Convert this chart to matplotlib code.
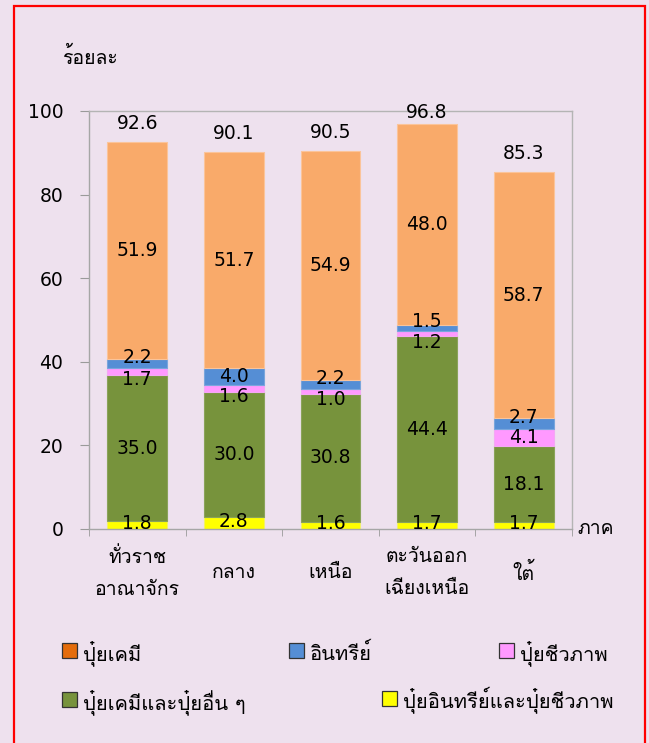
import matplotlib
matplotlib.use("Agg")
import matplotlib.pyplot as plt
from matplotlib import font_manager
from matplotlib.patches import Rectangle
import numpy as np

# ---------------- data ----------------
categories = ["ทั่วราช\nอาณาจักร", "กลาง", "เหนือ", "ตะวันออก\nเฉียงเหนือ", "ใต้"]
series_names = ["ปุ๋ยอินทรีย์และปุ๋ยชีวภาพ", "ปุ๋ยเคมีและปุ๋ยอื่น ๆ", "ปุ๋ยชีวภาพ", "อินทรีย์", "ปุ๋ยเคมี"]
organic_bio = [1.8, 2.8, 1.6, 1.7, 1.7]
chem_other = [35.0, 30.0, 30.8, 44.4, 18.1]
bio = [1.7, 1.6, 1.0, 1.2, 4.1]
organic = [2.2, 4.0, 2.2, 1.5, 2.7]
chem = [51.9, 51.7, 54.9, 48.0, 58.7]
totals = [92.6, 90.1, 90.5, 96.8, 85.3]
yticks = [0, 20, 40, 60, 80, 100]

# ---------------- font with Thai ----------------
def find_thai_fonts():
    found = []
    try:
        from fontTools.ttLib import TTFont
    except Exception:
        return found
    prefer = ["Tahoma", "Leelawadee", "Noto Sans Thai", "Loma", "Garuda", "Sarabun", "Waree", "Umpush"]
    seen = set()
    for f in font_manager.fontManager.ttflist:
        name, path = f.name, f.fname
        if name in seen:
            continue
        try:
            tt = TTFont(path, fontNumber=0, lazy=True)
            cmap = tt.getBestCmap()
            if cmap and 0x0E01 in cmap and 0x0E49 in cmap:
                found.append(name)
                seen.add(name)
            tt.close()
        except Exception:
            pass
    found.sort(key=lambda n: (0 if any(p.lower() in n.lower() for p in prefer) else 1, n))
    return found

thai = find_thai_fonts()
NUM_FONT = ["DejaVu Sans"] + thai[:1]
THAI_FONT = thai[:1] + ["DejaVu Sans"]
plt.rcParams['font.family'] = NUM_FONT

BG = "#EEE1EE"
colors = ["#FFFF00", "#77933C", "#FF99FF", "#558ED5", "#F9AA6A"]
edge_colors = ["#F2F26A", "#8AA35A", "#F4A8F4", "#7AA6DC", "#FBC49A"]
legend_colors = {"ปุ๋ยเคมี": "#E46C0A", "อินทรีย์": "#558ED5", "ปุ๋ยชีวภาพ": "#FF99FF",
                 "ปุ๋ยเคมีและปุ๋ยอื่น ๆ": "#77933C", "ปุ๋ยอินทรีย์และปุ๋ยชีวภาพ": "#FFFF00"}

W, H = 649, 743
fig = plt.figure(figsize=(W / 100, H / 100), dpi=100, facecolor=BG)

# red frame
fig.patches.append(Rectangle((14 / W, -0.01), (645 - 14) / W, (743 - 6) / H + 0.01,
                             transform=fig.transFigure, fill=False, edgecolor="#FF0000", linewidth=1.6))

ax_l, ax_r, ax_t, ax_b = 89, 572, 111, 529
ax = fig.add_axes([ax_l / W, 1 - ax_b / H, (ax_r - ax_l) / W, (ax_b - ax_t) / H])
ax.set_facecolor(BG)

NUM_FS = 13.5
THAI_FS = 14

x = np.arange(len(categories))
stack = [organic_bio, chem_other, bio, organic, chem]
# label shifts (points) for thin segments: up for 'organic', down for 'bio'
shift_rule = {2: -6.0, 3: 4.5}
bottom = np.zeros(len(categories))
for si, (vals, c, ec) in enumerate(zip(stack, colors, edge_colors)):
    ax.bar(x, vals, bottom=bottom, width=0.62, color=c, edgecolor=ec, linewidth=0.8)
    for xi, v, b in zip(x, vals, bottom):
        dy = 0.0
        if si in shift_rule and v < 3:
            dy = shift_rule[si]
        if si == 0:
            dy = 1.5
        ax.annotate(f"{v:.1f}", (xi, b + v / 2), xytext=(0, dy), textcoords="offset points",
                    ha="center", va="center", fontsize=NUM_FS, color="black")
    bottom += np.array(vals)

for xi, t in zip(x, totals):
    off = 1.5 if t > 95 else 6.5
    ax.annotate(f"{t:.1f}", (xi, t), xytext=(0, off), textcoords="offset points",
                ha="center", va="bottom", fontsize=NUM_FS)

ax.set_xlim(-0.5, len(categories) - 0.5)
ax.set_ylim(0, 100)
ax.set_yticks(yticks)
ax.set_yticklabels([str(v) for v in yticks], fontsize=NUM_FS)
ax.set_xticks(x)
ax.set_xticklabels(categories, fontsize=THAI_FS, linespacing=2.0, family=THAI_FONT)
for lab in ax.get_xticklabels():
    lab.set_va("center")
ax.tick_params(axis="x", length=0, pad=32)
ax.set_xticks(np.arange(-0.5, len(categories)), minor=True)
ax.tick_params(axis="x", which="minor", length=5, color="#9A9A9A", direction="out")
ax.tick_params(axis="y", length=6.5, color="#9A9A9A", direction="out", pad=12)
for s in ax.spines.values():
    s.set_color("#A6A6A6")
    s.set_linewidth(1.0)
ax.spines["top"].set_color("#B4B4B4")
ax.spines["right"].set_color("#B4B4B4")

fig.text(62 / W, 1 - 57 / H, "ร้อยละ", fontsize=THAI_FS, ha="left", va="center", family=THAI_FONT)
fig.text(577 / W, 1 - 529 / H, "ภาค", fontsize=THAI_FS, ha="left", va="center", family=THAI_FONT)

# legend (manual layout)
legend_items = [("ปุ๋ยเคมี", 62, 650), ("อินทรีย์", 289, 650), ("ปุ๋ยชีวภาพ", 499, 650),
                ("ปุ๋ยเคมีและปุ๋ยอื่น ๆ", 62, 699), ("ปุ๋ยอินทรีย์และปุ๋ยชีวภาพ", 382, 698)]
for name, px, py in legend_items:
    sz = 15
    fig.patches.append(Rectangle((px / W, 1 - (py + sz / 2) / H), sz / W, sz / H,
                                 transform=fig.transFigure, facecolor=legend_colors[name],
                                 edgecolor="#333333", linewidth=0.9))
    fig.text((px + sz + 6) / W, 1 - (py + 3) / H, name, fontsize=14.5, ha="left", va="center",
             family=THAI_FONT)

fig.savefig("out.png", dpi=100, facecolor=BG)
